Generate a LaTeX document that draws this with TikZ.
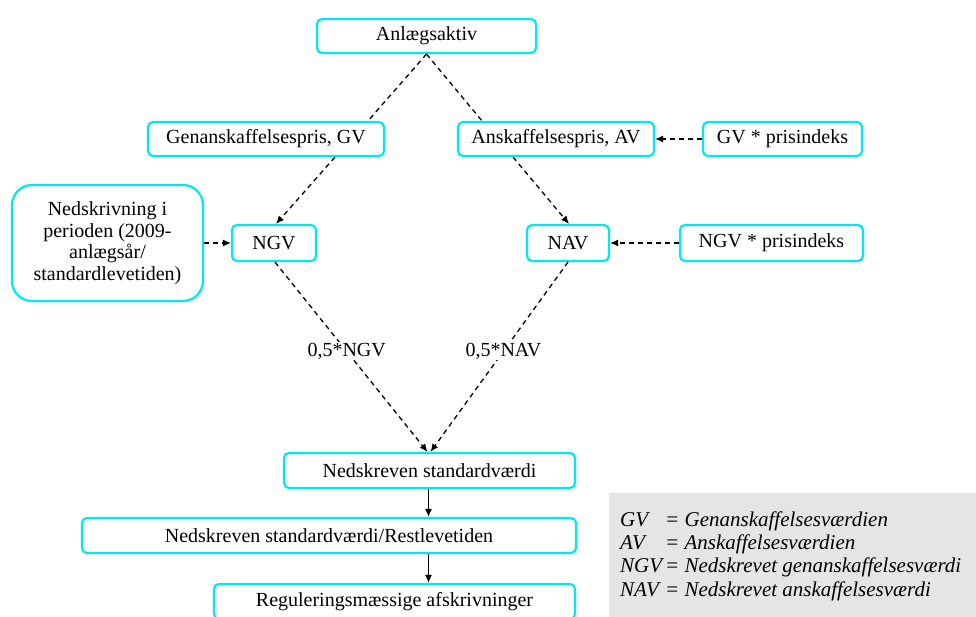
\documentclass[tikz,border=0pt]{standalone}
\usepackage{fontspec}
\setmainfont{Liberation Serif}
\usetikzlibrary{arrows.meta,calc}
\definecolor{boxcyan}{RGB}{0,232,244}
\definecolor{legendgray}{RGB}{229,229,229}
\tikzset{
  box/.style={draw=boxcyan, line width=2.2pt, rounded corners=5pt, fill=white,
    inner sep=0pt, minimum height=34pt, align=center,
    font=\fontsize{20}{21.5}\selectfont},
  bigbox/.style={box, rounded corners=20pt},
  dashlink/.style={draw=black, line width=1.3pt, dash pattern=on 5pt off 4pt},
  dasharrow/.style={dashlink, -{Latex[length=8pt,width=7pt]}},
  solidarrow/.style={draw=black, line width=1.3pt, -{Latex[length=8pt,width=7pt]}},
  edgelabel/.style={fill=white, inner sep=1pt, font=\fontsize{20}{22}\selectfont}
}
\begin{document}
\begin{tikzpicture}[x=1pt,y=-1pt]
\useasboundingbox (0,0) rectangle (976,617);
\fill[white] (0,0) rectangle (976,617);
% legend
\fill[legendgray] (609,493) rectangle (976,617);
\node[anchor=base west, inner sep=0pt, font=\fontsize{21}{23.4}\selectfont\itshape] (legend) at (620,526)
  {\begin{tabular}[t]{@{}l@{\hspace{3pt}}l@{}}
   GV & = Genanskaffelsesværdien\\
   AV & = Anskaffelsesværdien\\
   NGV & = Nedskrevet genanskaffelsesværdi\\
   NAV & = Nedskrevet anskaffelsesværdi
   \end{tabular}};
% nodes
\node[box, minimum width=219pt] (anl) at (426.5,36) {Anlægsaktiv};
\node[box, minimum width=236pt] (gen) at (266,139) {Genanskaffelsespris, GV};
\node[box, minimum width=196pt] (ans) at (556,139) {Anskaffelsespris, AV};
\node[box, minimum width=159pt] (gvp) at (782.5,139) {GV * prisindeks};
\node[bigbox, minimum width=191pt, minimum height=116pt] (nedsk) at (107.5,243)
  {Nedskrivning i\\perioden (2009-\\anlægsår/\\standardlevetiden)};
\node[box, minimum width=84pt, minimum height=36pt] (ngv) at (274,243) {NGV};
\node[box, minimum width=82pt, minimum height=36pt] (nav) at (568,243) {NAV};
\node[box, minimum width=183pt, minimum height=36pt] (ngvp) at (771.5,243) {NGV * prisindeks};
\node[box, minimum width=291pt, minimum height=35pt] (ned) at (429.5,470.5) {Nedskreven standardværdi};
\node[box, minimum width=494pt, minimum height=35pt] (rest) at (329,535.5) {Nedskreven standardværdi/Restlevetiden};
\node[box, minimum width=361pt, minimum height=35pt] (reg) at (394.5,601.5) {Reguleringsmæssige afskrivninger};
% connectors
\draw[dashlink] (anl.south) -- ([xshift=102pt]gen.north);
\draw[dashlink] (anl.south) -- ([xshift=-74pt]ans.north);
\draw[dasharrow] ([xshift=69pt]gen.south) -- ([xshift=2pt]ngv.north);
\draw[dasharrow] ([xshift=-43pt]ans.south) -- ([xshift=1pt]nav.north);
\draw[dasharrow] (gvp.west) -- (ans.east);
\draw[dasharrow] (ngvp.west) -- (nav.east);
\draw[dasharrow] (nedsk.east) -- (ngv.west);
\draw[dasharrow] ([xshift=1pt]ngv.south) -- node[edgelabel, pos=0.47] {0,5*NGV} ([xshift=-2pt]ned.north);
\draw[dasharrow] (nav.south) -- node[edgelabel, pos=0.47] {0,5*NAV} ([xshift=1pt]ned.north);
\draw[solidarrow] ([xshift=-1pt]ned.south) -- ([xshift=99.5pt]rest.north);
\draw[solidarrow] ([xshift=99.5pt]rest.south) -- ([xshift=34pt]reg.north);
\end{tikzpicture}
\end{document}
